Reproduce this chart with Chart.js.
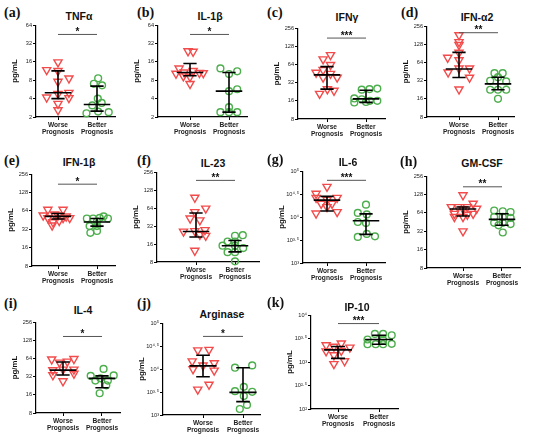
<!DOCTYPE html>
<html lang="en">
<head>
<meta charset="UTF-8">
<title>Cytokine levels by prognosis</title>
<script src="https://cdn.jsdelivr.net/npm/chart.js"></script>
<style>
  body { margin: 0; background: #fff; }
  #fig { position: relative; width: 550px; height: 440px; overflow: hidden;
         font-family: 'Liberation Sans', Arial, sans-serif; }
  .panel { position: absolute; }
  .lbl { position: absolute; font: bold 14px 'Liberation Serif', 'Times New Roman', serif;
         transform: translateY(-50%); color: #111; }
  .ttl { position: absolute; font-weight: bold; font-size: 10.5px; color: #111;
         transform: translate(-50%, -50%); white-space: nowrap; }
</style>
</head>
<body>
<div id="fig"></div>
<script>
// ---- data ----
const panelLabels = ['(a)', '(b)', '(c)', '(d)', '(e)', '(f)', '(g)', '(h)', '(i)', '(j)', '(k)'];
const titles = ['TNF\u03b1', 'IL-1\u03b2', 'IFN\u03b3', 'IFN-\u03b12', 'IFN-1\u03b2', 'IL-23', 'IL-6', 'GM-CSF', 'IL-4', 'Arginase', 'IP-10'];
const groups = [['Worse', 'Prognosis'], ['Better', 'Prognosis']];

const log2Small = [2, 4, 8, 16, 32, 64];
const log2Big = [8, 16, 32, 64, 128, 256];
const dec35 = [1000, 3162, 10000, 31623, 100000];
const dec24 = [100, 316, 1000, 3162, 10000];
const dec35Labels = ['10\u00b3', '10\u00b3\u00b7\u2075', '10\u2074', '10\u2074\u00b7\u2075', '10\u2075'];
const dec24Labels = ['10\u00b2', '10\u00b2\u00b7\u2075', '10\u00b3', '10\u00b3\u00b7\u2075', '10\u2074'];

const yTicks = [log2Small, log2Small, log2Big, log2Big, log2Big, log2Big, dec35, log2Big, log2Big, dec35, dec24];
const yTickLabels = [null, null, null, null, null, null, dec35Labels, null, null, dec35Labels, dec24Labels];

// worse prognosis values (pg/mL) and horizontal jitter
const worseValues = [
  [15.8, 11.8, 11.4, 8.6, 7.6, 5.0, 4.8, 4.2, 4.1, 3.3, 2.6],
  [24, 23.5, 12.5, 10.3, 10.8, 11.4, 10.6, 10.5, 9.3, 9.1, 7.0],
  [92, 78, 63, 52, 47, 45, 39, 39, 25, 23.6, 21],
  [182, 140, 125, 93, 77, 70, 51, 51, 44, 36, 23],
  [67, 67, 56, 54, 54, 52, 49, 49, 49, 42, 44, 37],
  [96, 63, 55, 43, 40, 27.5, 26, 26.5, 23, 22, 12.4],
  [45700, 32400, 26300, 26300, 24000, 19500, 19500, 16600, 12000, 12900],
  [125, 91, 80, 80, 80, 75, 74, 62, 62, 60, 55, 55, 32],
  [62, 63, 55, 57, 42, 42, 41, 36, 34, 27],
  [25700, 26300, 14800, 13500, 12000, 10000, 9300, 4600, 3600],
  [2510, 2290, 2140, 2040, 1700, 1740, 1410, 1050, 910]
];
const worseJitter = [
  [0, -0.29, 0, 0.28, 0, 0.28, 0, -0.29, 0.28, 0, 0],
  [-0.05, 0.08, -0.28, -0.36, -0.15, 0.08, 0.24, 0.34, -0.17, 0, 0],
  [0.09, -0.1, 0.09, -0.1, -0.28, 0.09, -0.1, 0.26, 0.01, 0.18, -0.19],
  [0, 0, 0, 0, -0.29, 0, 0, 0.27, -0.28, 0.27, 0],
  [-0.26, 0.13, -0.09, -0.38, 0, 0.21, -0.26, 0.13, 0.3, -0.13, 0.03, -0.15],
  [-0.03, 0.25, -0.03, -0.15, 0.1, 0.23, -0.32, -0.03, 0.1, 0.25, -0.03],
  [0, -0.28, -0.28, 0.26, 0, -0.15, 0.13, 0, -0.28, 0.26],
  [0, 0.26, -0.3, -0.13, 0.11, 0.35, 0, -0.22, 0.26, 0.11, -0.22, 0, 0],
  [-0.29, 0.28, -0.09, 0.11, 0.28, 0, -0.26, 0.28, -0.26, 0],
  [-0.13, 0.15, -0.27, 0.28, 0, -0.25, 0.28, 0.15, -0.13],
  [0.08, -0.29, -0.1, 0.29, -0.29, 0.08, -0.1, 0.16, -0.1]
];

// better prognosis values (pg/mL) and horizontal jitter
const betterValues = [
  [8.6, 7.0, 6.6, 4.0, 3.4, 3.1, 2.3, 2.45, 2.4],
  [12.5, 11.2, 10.1, 5.7, 5.3, 2.9, 2.4, 2.4, 2.4],
  [24.5, 25, 25.5, 17.5, 17, 15, 16, 16, 15.3],
  [42.5, 42.5, 36.5, 31.8, 31, 22.6, 22.6, 22.6, 16],
  [48, 48, 49, 52, 48, 43, 36, 36, 28, 30],
  [22, 22.5, 17.6, 17.6, 15, 15, 13.7, 11.7, 11.7, 8.2],
  [18600, 12300, 11400, 7800, 7400, 3700, 4300, 3800],
  [70, 68, 66, 55, 55, 53, 44, 44, 42, 40, 30.5],
  [43, 33, 33.5, 30, 27.5, 27.5, 23, 17],
  [12000, 10700, 4100, 3300, 3200, 2600, 1660, 1350],
  [3980, 3980, 3720, 3020, 2950, 2400, 2400, 2400, 2440]
];
const betterJitter = [
  [0.03, -0.08, 0.13, 0.02, 0.12, -0.12, -0.27, 0.03, 0.3],
  [-0.22, 0.21, 0, 0.21, 0, 0, -0.22, 0, 0.21],
  [-0.11, 0.09, 0.29, -0.3, -0.11, -0.3, 0.1, 0.29, 0],
  [-0.09, 0.12, 0, -0.2, 0.21, -0.2, 0, 0.21, 0],
  [-0.26, -0.1, 0.07, 0.17, 0.28, 0, -0.19, 0, -0.17, 0],
  [0, 0.2, -0.19, 0, -0.32, 0, 0.21, -0.19, 0, 0],
  [0, -0.21, 0.02, -0.21, 0, -0.21, 0.02, 0.23],
  [-0.2, 0.02, 0.22, -0.2, 0.02, 0.22, -0.2, 0.02, 0.22, -0.09, 0.02],
  [0.04, -0.29, 0.3, -0.04, 0.15, -0.17, 0.11, -0.06],
  [0.23, -0.2, 0.02, -0.2, 0.23, 0.02, 0.1, -0.08],
  [-0.1, 0.1, 0.31, -0.28, 0.1, -0.28, -0.08, 0.1, 0.31]
];

// median and interquartile range, [worse, better]
const medians = [[5.0, 3.2], [10.7, 5.3], [43, 17.2], [50, 28.3], [52, 42], [26, 15],
  [23400, 8300], [74, 50], [41, 30], [11700, 3100], [1820, 3020]];
const q1s = [[4.0, 2.5], [9.5, 2.4], [25, 15.1], [36, 22.6], [47, 36], [21, 11.8],
  [13500, 4200], [57, 40], [34, 21], [6800, 1950], [1200, 2400]];
const q3s = [[11.4, 6.4], [15, 10.7], [59, 24], [94, 36.5], [58, 48], [53, 18.3],
  [28200, 11700], [80, 62], [56, 33], [20000, 10700], [2140, 3720]];

const stars = ['*', '*', '***', '**', '*', '**', '***', '**', '*', '*', '***'];
const sigLevels = [45, 45, 175, 199, 175, 186, 63000, 171, 148, 51300, 6600];

// ---- layout (page pixels): axis x, axis right end, top, bottom, tick 0, tick 1 ----
const boxes = [
  [36, 115, 25, 117, 58, 97], [158, 247, 25, 117, 190, 229],
  [298, 385, 28, 119, 327, 366], [427, 514, 26, 117, 459, 498],
  [32, 115, 174, 266, 58, 97], [157, 259, 172, 262, 196, 235],
  [303, 385, 171, 263, 327, 366], [427, 520, 176, 268, 463, 502],
  [36, 120, 322, 413, 63, 102], [163, 260, 323, 415, 203, 243],
  [311, 398, 315, 409, 338, 379]
];
const titlePos = [[79, 16], [210, 16], [347, 17], [477, 17], [79, 162], [213, 163],
  [348, 162], [482, 163], [83, 310], [222, 314], [357, 307]];
const labelPos = [[4, 13], [137, 13], [267, 13], [401, 13], [4, 161], [137, 161],
  [267, 160], [400, 162], [4, 304], [137, 304], [267, 303]];

const RED = '#f24b4b';
const GREEN = '#4cae4c';
const FONT = "'Liberation Sans', Arial, sans-serif";
const YW = 30, XH = 28, PT = 6, PR = 10;

const statsPlugin = {
  id: 'stats',
  afterDatasetsDraw(chart, args, opts) {
    const i = opts.panel;
    const { ctx } = chart;
    const x = chart.scales.x, y = chart.scales.y;
    ctx.save();
    ctx.strokeStyle = '#000';
    ctx.lineWidth = 1.6;
    for (let g = 0; g < 2; g++) {
      const cx = x.getPixelForValue(g);
      const capW = x.getPixelForValue(g + 0.17) - cx;
      const medW = x.getPixelForValue(g + 0.34) - cx;
      const y1 = y.getPixelForValue(q1s[i][g]);
      const y3 = y.getPixelForValue(q3s[i][g]);
      const ym = y.getPixelForValue(medians[i][g]);
      ctx.beginPath();
      ctx.moveTo(cx, y1); ctx.lineTo(cx, y3);
      ctx.moveTo(cx - capW, y1); ctx.lineTo(cx + capW, y1);
      ctx.moveTo(cx - capW, y3); ctx.lineTo(cx + capW, y3);
      ctx.moveTo(cx - medW, ym); ctx.lineTo(cx + medW, ym);
      ctx.stroke();
    }
    const x0 = x.getPixelForValue(0), x1 = x.getPixelForValue(1);
    const ys = y.getPixelForValue(sigLevels[i]);
    ctx.strokeStyle = '#555';
    ctx.lineWidth = 1;
    ctx.beginPath();
    ctx.moveTo(x0, ys); ctx.lineTo(x1, ys);
    ctx.stroke();
    ctx.fillStyle = '#111';
    ctx.font = 'bold 10px ' + FONT;
    ctx.textAlign = 'center';
    ctx.textBaseline = 'alphabetic';
    ctx.fillText(stars[i], (x0 + x1) / 2, ys + 0.5);
    ctx.restore();
  }
};

const fig = document.getElementById('fig');

titles.forEach((title, i) => {
  const [ax, right, top, bottom, t0, t1] = boxes[i];
  const unit = t1 - t0;
  const xMin = -(t0 - ax) / unit;
  const xMax = 1 + (right - t1) / unit;
  const W = YW + (right - ax) + PR;
  const H = PT + (bottom - top) + XH;

  const lbl = document.createElement('div');
  lbl.className = 'lbl';
  lbl.textContent = panelLabels[i];
  lbl.style.left = labelPos[i][0] + 'px';
  lbl.style.top = labelPos[i][1] + 'px';
  fig.appendChild(lbl);

  const ttl = document.createElement('div');
  ttl.className = 'ttl';
  ttl.textContent = title;
  ttl.style.left = titlePos[i][0] + 'px';
  ttl.style.top = titlePos[i][1] + 'px';
  fig.appendChild(ttl);

  const div = document.createElement('div');
  div.className = 'panel';
  div.style.left = (ax - YW) + 'px';
  div.style.top = (top - PT) + 'px';
  const cv = document.createElement('canvas');
  cv.width = W; cv.height = H;
  cv.style.width = W + 'px'; cv.style.height = H + 'px';
  div.appendChild(cv);
  fig.appendChild(div);

  const ticks = yTicks[i];
  const tickLabels = yTickLabels[i];

  new Chart(cv, {
    type: 'scatter',
    data: {
      datasets: [
        {
          data: worseValues[i].map((v, k) => ({ x: worseJitter[i][k], y: v })),
          pointStyle: 'triangle',
          rotation: 180,
          pointRadius: 4.7,
          borderColor: RED,
          backgroundColor: 'rgba(255,255,255,0)',
          borderWidth: 1.4,
          clip: false
        },
        {
          data: betterValues[i].map((v, k) => ({ x: 1 + betterJitter[i][k], y: v })),
          pointStyle: 'circle',
          pointRadius: 3.4,
          borderColor: GREEN,
          backgroundColor: 'rgba(255,255,255,0)',
          borderWidth: 1.4,
          clip: false
        }
      ]
    },
    options: {
      responsive: false,
      animation: false,
      events: [],
      layout: { padding: { top: PT, right: PR, left: 0, bottom: 0 } },
      plugins: {
        legend: { display: false },
        tooltip: { enabled: false },
        stats: { panel: i }
      },
      scales: {
        x: {
          type: 'linear',
          min: xMin,
          max: xMax,
          afterBuildTicks: s => { s.ticks = [{ value: 0 }, { value: 1 }]; },
          afterFit: s => { s.height = XH; },
          ticks: {
            callback: v => groups[v < 0.5 ? 0 : 1],
            font: { family: FONT, size: 6.6, weight: 'bold', lineHeight: 1.15 },
            color: '#222',
            padding: 1,
            maxRotation: 0,
            autoSkip: false
          },
          grid: { drawOnChartArea: false, tickLength: 3, color: '#000' },
          border: { color: '#000', width: 1.2 }
        },
        y: {
          type: 'logarithmic',
          min: ticks[0],
          max: ticks[ticks.length - 1],
          afterBuildTicks: s => { s.ticks = ticks.map(v => ({ value: v })); },
          afterFit: s => { s.width = YW; },
          ticks: {
            callback: (v, k) => tickLabels ? tickLabels[k] : String(v),
            font: { family: FONT, size: 5.6 },
            color: '#222',
            padding: 1,
            autoSkip: false
          },
          grid: { drawOnChartArea: false, tickLength: 3, color: '#000' },
          border: { color: '#000', width: 1.2 },
          title: {
            display: true,
            text: 'pg/mL',
            font: { family: FONT, size: 7.8, weight: 'bold' },
            color: '#111',
            padding: { top: 4, bottom: 0 }
          }
        }
      }
    },
    plugins: [statsPlugin]
  });
});
</script>
</body>
</html>
